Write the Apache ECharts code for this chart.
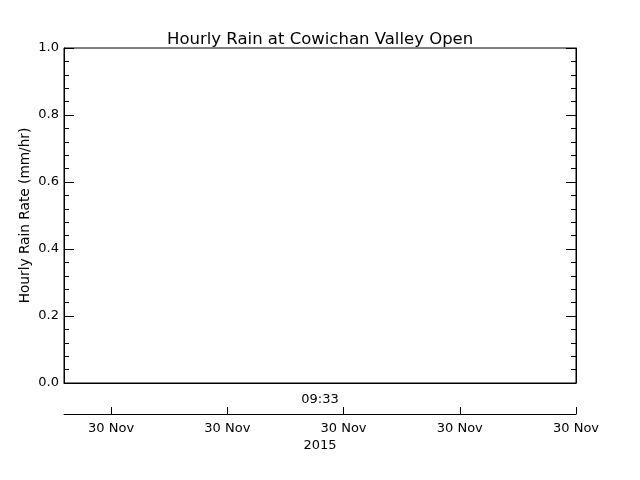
<!DOCTYPE html>
<html>
<head>
<meta charset="utf-8">
<script src="https://cdn.jsdelivr.net/npm/echarts@6/dist/echarts.min.js"></script>
<style>
  html, body { margin: 0; padding: 0; background: #fff; }
  #chart { width: 640px; height: 480px; }
</style>
</head>
<body>
<div id="chart"></div>
<script>
const TITLE = 'Hourly Rain at Cowichan Valley Open';
const Y_NAME = 'Hourly Rain Rate (mm/hr)';
const CURRENT_TIME = '09:33';
const YEAR_LABEL = '2015';

// time axis, in tick units (each tick is one "30 Nov" mark)
const xMin = -0.405;
const xMax = 4;
const xTickValues = [0, 1, 2, 3, 4];
const xTickLabels = ['30 Nov', '30 Nov', '30 Nov', '30 Nov', '30 Nov'];

// y scale
const yMin = 0;
const yMax = 1;
const yStep = 0.2;

// rain readings (none in this period)
const rainTimes = [];
const rainValues = [];

const FONT = 'DejaVu Sans';
const INK = '#000';

function yAxisBase(position, showLabels) {
  return {
    type: 'value',
    position,
    min: yMin,
    max: yMax,
    interval: yStep,
    axisLine: { show: true, onZero: false, lineStyle: { color: INK, width: 1 } },
    axisTick: { show: true, inside: true, length: 10, lineStyle: { color: INK } },
    minorTick: { show: true, splitNumber: 5, length: 5, lineStyle: { color: INK } },
    splitLine: { show: false },
    axisLabel: {
      show: showLabels,
      margin: 5,
      color: INK,
      fontFamily: FONT,
      fontSize: 13,
      formatter: (v) => v.toFixed(1)
    }
  };
}

const chart = echarts.init(document.getElementById('chart'), null, { renderer: 'canvas' });

const leftAxis = yAxisBase('left', true);
leftAxis.name = Y_NAME;
leftAxis.nameLocation = 'middle';
leftAxis.nameRotate = 90;
leftAxis.nameGap = 32;
leftAxis.nameMoveOverlap = false;
leftAxis.nameTextStyle = { color: INK, fontFamily: FONT, fontSize: 13.7 };

chart.setOption({
  animation: false,
  backgroundColor: '#fff',
  title: {
    text: TITLE,
    left: 162,
    top: 26,
    textStyle: { color: INK, fontFamily: FONT, fontSize: 16.5, fontWeight: 'normal' }
  },
  grid: {
    left: 64, right: 64, top: 48, bottom: 97,
    show: true, borderColor: INK, borderWidth: 1, backgroundColor: 'transparent'
  },
  xAxis: [
    {
      type: 'value',
      position: 'bottom',
      min: xMin,
      max: xMax,
      axisLine: { show: true, onZero: false, lineStyle: { color: INK } },
      axisTick: { show: false },
      axisLabel: { show: false },
      splitLine: { show: false },
      name: CURRENT_TIME,
      nameLocation: 'middle',
      nameGap: 10,
      nameMoveOverlap: false,
      nameTextStyle: { color: INK, fontFamily: FONT, fontSize: 13 }
    },
    {
      type: 'value',
      position: 'bottom',
      offset: 31,
      min: xMin,
      max: xMax,
      axisLine: { show: true, onZero: false, lineStyle: { color: INK } },
      axisTick: { show: true, inside: true, length: 7, customValues: xTickValues, lineStyle: { color: INK } },
      axisLabel: {
        show: true,
        margin: 8,
        color: INK,
        fontFamily: FONT,
        fontSize: 13,
        customValues: xTickValues,
        formatter: (v) => xTickLabels[xTickValues.indexOf(Math.round(v))] || ''
      },
      splitLine: { show: false },
      name: YEAR_LABEL,
      nameLocation: 'middle',
      nameGap: 25,
      nameMoveOverlap: false,
      nameTextStyle: { color: INK, fontFamily: FONT, fontSize: 13 }
    }
  ],
  yAxis: [leftAxis, yAxisBase('right', false)],
  series: [
    {
      name: 'Hourly Rain',
      type: 'line',
      xAxisIndex: 0,
      yAxisIndex: 0,
      symbol: 'none',
      lineStyle: { color: INK, width: 1 },
      data: rainTimes.map((t, i) => [t, rainValues[i]])
    }
  ]
});
</script>
</body>
</html>
